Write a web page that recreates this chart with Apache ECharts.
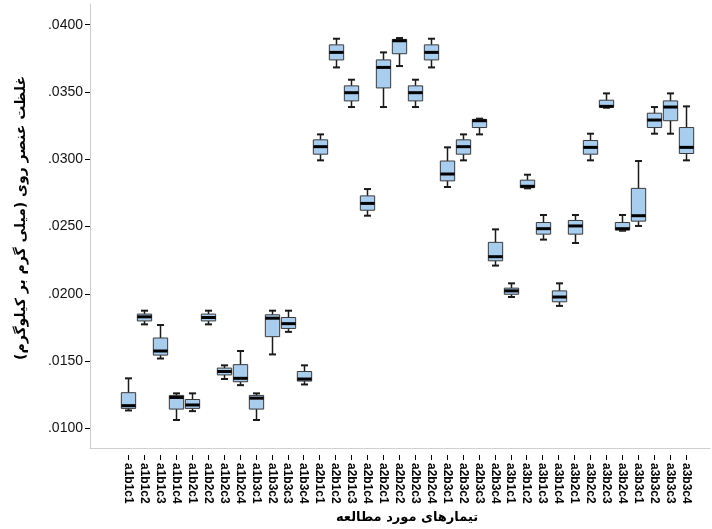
<!DOCTYPE html>
<html><head><meta charset="utf-8">
<script src="https://cdn.jsdelivr.net/npm/echarts@6/dist/echarts.min.js"></script>
<style>html,body{margin:0;padding:0;background:#fff}#c{width:712px;height:529px}</style>
</head><body><div id="c"></div>
<script>
const categories = ['a1b1c1','a1b1c2','a1b1c3','a1b1c4','a1b2c1','a1b2c2','a1b2c3','a1b2c4','a1b3c1','a1b3c2','a1b3c3','a1b3c4',
  'a2b1c1','a2b1c2','a2b1c3','a2b1c4','a2b2c1','a2b2c2','a2b2c3','a2b2c4','a2b3c1','a2b3c2','a2b3c3','a2b3c4',
  'a3b1c1','a3b1c2','a3b1c3','a3b1c4','a3b2c1','a3b2c2','a3b2c3','a3b2c4','a3b3c1','a3b3c2','a3b3c3','a3b3c4'];
const whiskerLow = [0.01180,0.01810,0.01560,0.01110,0.01175,0.01810,0.01410,0.01365,0.01110,0.01590,0.01755,0.01370,
  0.03010,0.03690,0.03400,0.02605,0.03400,0.03700,0.03400,0.03690,0.02815,0.03010,0.03200,0.02240,
  0.02010,0.02805,0.02430,0.01945,0.02405,0.03010,0.03395,0.02495,0.02530,0.03205,0.03205,0.03010];
const quartile1 = [0.01195,0.01835,0.01585,0.01190,0.01195,0.01835,0.01440,0.01390,0.01190,0.01720,0.01780,0.01395,
  0.03055,0.03745,0.03445,0.02645,0.03540,0.03790,0.03445,0.03745,0.02860,0.03055,0.03250,0.02275,
  0.02030,0.02810,0.02470,0.01975,0.02470,0.03055,0.03400,0.02500,0.02565,0.03250,0.03300,0.03060];
const medianVals = [0.01215,0.01865,0.01615,0.01275,0.01220,0.01860,0.01465,0.01415,0.01270,0.01855,0.01815,0.01410,
  0.03110,0.03800,0.03505,0.02695,0.03690,0.03885,0.03505,0.03800,0.02910,0.03110,0.03300,0.02305,
  0.02055,0.02820,0.02510,0.02010,0.02530,0.03105,0.03405,0.02510,0.02605,0.03305,0.03400,0.03105];
const quartile3 = [0.01310,0.01885,0.01710,0.01290,0.01260,0.01885,0.01490,0.01515,0.01290,0.01880,0.01860,0.01465,
  0.03160,0.03855,0.03555,0.02750,0.03745,0.03895,0.03555,0.03855,0.03005,0.03160,0.03310,0.02410,
  0.02075,0.02865,0.02555,0.02055,0.02570,0.03155,0.03450,0.02555,0.02805,0.03355,0.03445,0.03250];
const whiskerHigh = [0.01415,0.01910,0.01805,0.01305,0.01305,0.01910,0.01510,0.01615,0.01305,0.01910,0.01910,0.01510,
  0.03200,0.03900,0.03600,0.02800,0.03800,0.03905,0.03600,0.03900,0.03105,0.03200,0.03315,0.02505,
  0.02110,0.02905,0.02610,0.02110,0.02610,0.03205,0.03500,0.02610,0.03005,0.03400,0.03500,0.03405];
const yTicks = [0.0100,0.0150,0.0200,0.0250,0.0300,0.0350,0.0400];
const yTitle = 'غلظت عنصر روی (میلی گرم بر کیلوگرم)';
const xTitle = 'تیمارهای مورد مطالعه';

const yMin = 0.00854, yMax = 0.04154;
const boxData = categories.map((c, i) => [i, whiskerLow[i], quartile1[i], medianVals[i], quartile3[i], whiskerHigh[i]]);

const chart = echarts.init(document.getElementById('c'), null, {renderer: 'canvas'});
chart.setOption({
  animation: false,
  backgroundColor: '#fff',
  grid: [
    {left: 90, right: 2, top: 4, bottom: 74},
    {left: 120.5, right: 18, top: 4, bottom: 74}
  ],
  xAxis: [
    {gridIndex: 0, type: 'value', min: 0, max: 1,
      axisLine: {show: true, lineStyle: {color: '#cfcfcf', width: 1}},
      axisTick: {show: false}, axisLabel: {show: false}, splitLine: {show: false},
      name: xTitle, nameLocation: 'middle', nameGap: 63,
      nameTextStyle: {fontFamily: 'DejaVu Sans', fontWeight: 'bold', fontSize: 13, color: '#000', padding: [0, 0, 0, 14]}},
    {gridIndex: 1, type: 'category', data: categories,
      axisLine: {show: false},
      axisTick: {show: true, alignWithLabel: true, length: 5, lineStyle: {color: '#000', width: 1}},
      axisLabel: {interval: 0, rotate: -90, fontFamily: 'Liberation Sans', fontWeight: 'bold', fontSize: 12, color: '#000', margin: 8},
      splitLine: {show: false}}
  ],
  yAxis: [
    {gridIndex: 0, type: 'value', min: yMin, max: yMax,
      axisLine: {show: true, lineStyle: {color: '#cfcfcf', width: 1}},
      axisTick: {show: true, length: 5, customValues: yTicks, lineStyle: {color: '#000', width: 1}},
      axisLabel: {customValues: yTicks, fontFamily: 'Liberation Sans', fontSize: 14, color: '#111', margin: 7,
        formatter: v => v.toFixed(4).replace(/^0/, '')},
      splitLine: {show: false},
      name: yTitle, nameLocation: 'middle', nameGap: 62,
      nameTextStyle: {fontFamily: 'DejaVu Sans', fontWeight: 'bold', fontSize: 14, color: '#000', padding: [0, 0, 0, 16]}},
    {gridIndex: 1, type: 'value', min: yMin, max: yMax, show: false}
  ],
  series: [{
    type: 'custom',
    xAxisIndex: 1, yAxisIndex: 1,
    data: boxData,
    encode: {x: 0, y: [1, 2, 3, 4, 5]},
    renderItem: function (params, api) {
      const x = api.value(0);
      const pLow = api.coord([x, api.value(1)]);
      const pQ1 = api.coord([x, api.value(2)]);
      const pMed = api.coord([x, api.value(3)]);
      const pQ3 = api.coord([x, api.value(4)]);
      const pHigh = api.coord([x, api.value(5)]);
      const band = api.size([1, 0])[0];
      const bw = band * 0.9, cw = band * 0.44;
      const cx = Math.round(pLow[0]) + 0.5;
      const ws = {stroke: '#1a1a1a', lineWidth: 1.5};
      return {type: 'group', children: [
        {type: 'line', shape: {x1: cx, y1: pHigh[1], x2: cx, y2: pQ3[1]}, style: ws},
        {type: 'line', shape: {x1: cx, y1: pQ1[1], x2: cx, y2: pLow[1]}, style: ws},
        {type: 'line', shape: {x1: cx - cw / 2, y1: pHigh[1], x2: cx + cw / 2, y2: pHigh[1]}, style: {stroke: '#1a1a1a', lineWidth: 2}},
        {type: 'line', shape: {x1: cx - cw / 2, y1: pLow[1], x2: cx + cw / 2, y2: pLow[1]}, style: {stroke: '#1a1a1a', lineWidth: 2}},
        {type: 'rect', shape: {x: cx - bw / 2, y: pQ3[1], width: bw, height: pQ1[1] - pQ3[1]},
          style: {fill: '#a9cdef', stroke: '#3a3a3a', lineWidth: 1}},
        {type: 'line', shape: {x1: cx - bw / 2, y1: pMed[1], x2: cx + bw / 2, y2: pMed[1]}, style: {stroke: '#000', lineWidth: 3}}
      ]};
    }
  }]
});
</script></body></html>
